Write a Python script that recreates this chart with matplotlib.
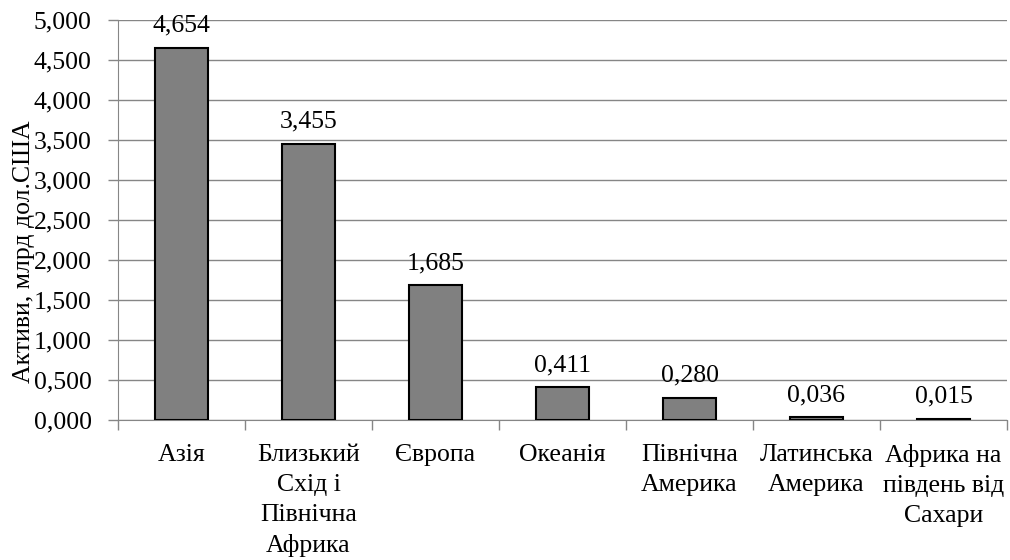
import numpy as np
import matplotlib
matplotlib.use("Agg")
import matplotlib.pyplot as plt
from matplotlib.ticker import FuncFormatter, MultipleLocator

# regions and assets, bn USD
regions = ["Азія", "Близький\nСхід і\nПівнічна\nАфрика", "Європа", "Океанія",
           "Північна\nАмерика", "Латинська\nАмерика", "Африка на\nпівдень від\nСахари"]
assets = [4.654, 3.455, 1.685, 0.411, 0.280, 0.036, 0.015]
ylabel = "Активи, млрд дол.США"

plt.rcParams['font.family'] = ['Liberation Serif', 'DejaVu Serif']
plt.rcParams['font.size'] = 18.5

fig = plt.figure(figsize=(10.1, 5.6), dpi=100)
ax = fig.add_axes([118/1010, 0.25, 889/1010, 400/560])

x = np.arange(len(regions))
ax.bar(x, assets, width=0.42, color='#808080', edgecolor='black', linewidth=1.5, zorder=3)

def comma(v, pos=None):
    return f"{v:.3f}".replace('.', ',')

for xi, v in zip(x, assets):
    ax.annotate(comma(v), (xi, v), xytext=(0, 8), textcoords='offset points',
                ha='center', va='bottom', zorder=4)

ax.set_xlim(-0.5, len(regions) - 0.5)
ax.set_ylim(0, 5)
ax.yaxis.set_major_locator(MultipleLocator(0.5))
ax.yaxis.set_major_formatter(FuncFormatter(comma))

# labels at category centres, ticks at boundaries
ax.set_xticks(x)
ax.set_xticklabels(regions, linespacing=1.47)
ax.set_xticks(np.arange(len(regions) + 1) - 0.5, minor=True)
ax.tick_params(axis='x', which='major', length=0, pad=17)
ax.tick_params(axis='x', which='minor', length=7, color='#868686', width=1)
ax.tick_params(axis='y', length=7, color='#868686', width=1, pad=12)

ax.grid(True, axis='y', which='major', color='#868686', linewidth=1, zorder=0)

for side in ['top', 'right']:
    ax.spines[side].set_visible(False)
for side in ['left', 'bottom']:
    ax.spines[side].set_color('#868686')

ax.set_ylabel(ylabel)
ax.yaxis.set_label_coords(-0.093, 0.42)

fig.savefig("out.png", dpi=100)
